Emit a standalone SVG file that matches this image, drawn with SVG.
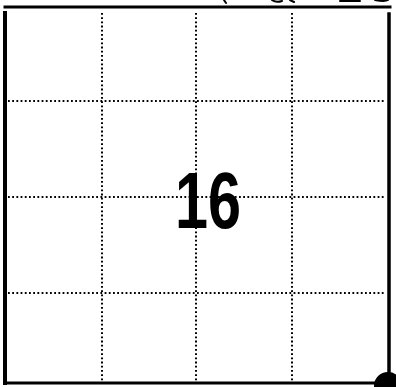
<svg xmlns="http://www.w3.org/2000/svg" width="396" height="387" viewBox="0 0 396 387">
<style>
.frame{stroke:#000;fill:none;stroke-linecap:square}
.dot{stroke:#000;stroke-width:2;stroke-dasharray:1.8 2.4;fill:none}
.scr{stroke:#000;stroke-width:2;fill:none;stroke-linecap:round}
</style>
<rect width="396" height="387" fill="#fff"/>
<g id="grid">
<line class="dot" x1="102" y1="13" x2="102" y2="381"/>
<line class="dot" x1="196" y1="13" x2="196" y2="381"/>
<line class="dot" x1="292" y1="13" x2="292" y2="381"/>
<line class="dot" x1="8" y1="101" x2="386" y2="101"/>
<line class="dot" x1="8" y1="197" x2="386" y2="197"/>
<line class="dot" x1="8" y1="293" x2="386" y2="293"/>
</g>
<g id="frame">
<line class="frame" x1="5" y1="7" x2="390" y2="7" stroke-width="3"/>
<line class="frame" x1="5" y1="13" x2="5" y2="383" stroke-width="4"/>
<line class="frame" x1="389" y1="14" x2="389" y2="383" stroke-width="3.5"/>
<line class="frame" x1="5" y1="383" x2="380" y2="383" stroke-width="3"/>
<circle cx="388" cy="386" r="14" fill="#000"/>
</g>
<g id="scribbles">
<path class="scr" d="M224 0 L226 3"/>
<path class="scr" d="M272 0 Q276 3 282 1"/>
<path class="scr" d="M290 0 L294 2"/>
<path class="scr" d="M340 1 L360 1"/>
<path class="scr" d="M375 0 Q385 2 388 0"/>
</g>
<g id="label">
<text x="208" y="228" font-family="Liberation Sans, sans-serif" font-weight="bold" font-size="80" text-anchor="middle" textLength="66" lengthAdjust="spacingAndGlyphs">16</text>
</g>
</svg>
